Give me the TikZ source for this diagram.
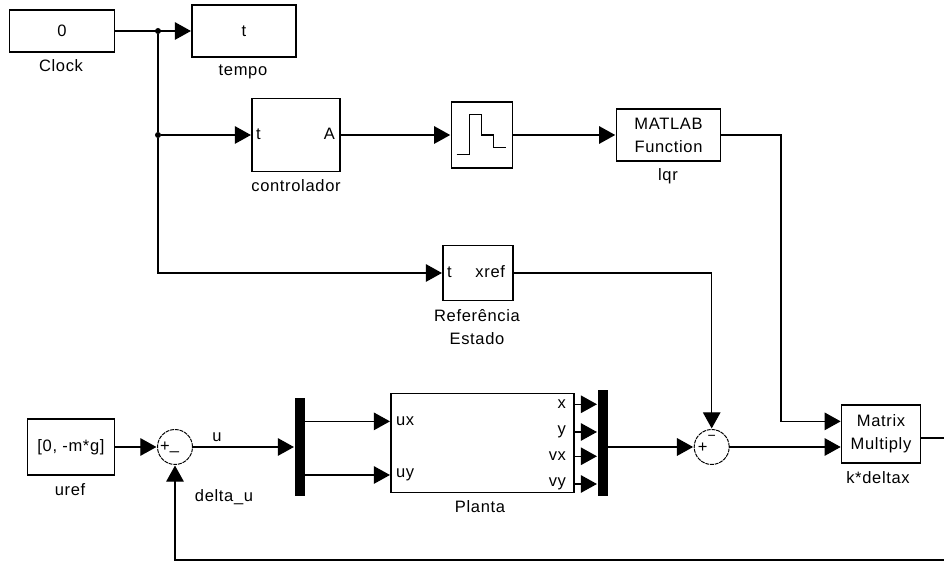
\documentclass[tikz,border=0pt]{standalone}
\usepackage{fontspec}
\setmainfont[LetterSpace=4]{Liberation Sans}
\usetikzlibrary{arrows.meta}
\begin{document}
\begin{tikzpicture}[
  x=0.02cm, y=-0.02cm,
  every node/.style={font=\fontsize{9.4}{13}\selectfont, inner sep=0pt, outer sep=0pt},
  blk/.style={draw, line width=0.75pt, fill=white, align=center},
  lbl/.style={align=center},
  bar/.style={draw=none, fill=black},
  sumc/.style={draw, circle, line width=0.55pt, dash pattern=on 2.2pt off 0.5pt, minimum size=0.7cm},
  wire/.style={line width=0.75pt},
  sig/.style={wire, shorten >=0.6pt, -{Triangle[length=9.2pt, width=10pt]}},
  dot/.style={circle, fill=black, minimum size=0.12cm}
]
  \useasboundingbox (0,0) rectangle (944,563);

  \node[blk, minimum width=2.09cm, minimum height=0.84cm] (clock) at (62,31) {0};
  \node[lbl] (clocklbl) at (61,66) {Clock};
  \node[blk, minimum width=2.08cm, minimum height=1.04cm] (tempo) at (244,31) {t};
  \node[lbl] (tempolbl) at (243,72) {tempo};
  \node[blk, minimum width=1.76cm, minimum height=1.46cm] (ctrl) at (296,135) {};
  \node[lbl] (ctrllbl) at (296,186) {controlador};
  \node[anchor=mid west] (ctrlt) at (256,135) {t};
  \node[anchor=mid east] (ctrla) at (335,135) {A};
  \node[blk, minimum width=1.23cm, minimum height=1.32cm] (stair) at (482,135) {};
  \draw[wire] (456.7,154.3) -- (469.3,154.3) -- (469.3,114.3) -- (481.7,114.3)
    -- (481.7,135) -- (493.3,135) -- (493.3,147.3) -- (506,147.3);
  \node[blk, minimum width=2.09cm, minimum height=1.04cm] (lqr) at (668.5,135) {MATLAB\\Function};
  \node[lbl] (lqrlbl) at (668,176) {lqr};
  \node[blk, minimum width=1.4cm, minimum height=1.11cm] (ref) at (478,273) {};
  \node[anchor=mid west] (reft) at (447,273) {t};
  \node[anchor=mid east] (refx) at (505,273) {xref};
  \node[lbl] (reflbl) at (477,327) {Referência\\Estado};

  \node[blk, minimum width=1.75cm, minimum height=1.12cm] (uref) at (71,447) {[0, -m*g]};
  \node[lbl] (ureflbl) at (70,490) {uref};
  \node[sumc] (sum1) at (175,447) {};
  \node (sum1p) at (165,447) {+};
  \node (sum1m) at (174.5,451) {\_};
  \node[lbl] (ulbl) at (217,437) {u};
  \node[lbl] (dulbl) at (224,497) {delta\_u};
  \node[bar, minimum width=0.2cm, minimum height=1.96cm] (mux) at (300,447) {};
  \node[blk, minimum width=3.66cm, minimum height=1.98cm] (planta) at (482.5,443) {};
  \node[lbl] (plantalbl) at (480,507) {Planta};
  \node[anchor=mid west] (ux) at (396,421) {ux};
  \node[anchor=mid west] (uy) at (396,473) {uy};
  \node[anchor=mid east] (px) at (566,404) {x};
  \node[anchor=mid east] (py) at (566,430) {y};
  \node[anchor=mid east] (pvx) at (566,456) {vx};
  \node[anchor=mid east] (pvy) at (566,482) {vy};
  \node[bar, minimum width=0.2cm, minimum height=2.12cm] (demux) at (603,443) {};
  \node[sumc] (sum2) at (711.7,447) {};
  \node (sum2p) at (702.7,447.5) {+};
  \node (sum2m) at (711.7,438) {\fontsize{8}{8}\selectfont−};
  \node[blk, minimum width=1.57cm, minimum height=1.16cm] (mat) at (881,434) {Matrix\\Multiply};
  \node[lbl] (matlbl) at (878,478) {k*deltax};

  \node[dot] (j1) at (158,31) {};
  \node[dot] (j2) at (158,135) {};
  \coordinate (outr) at (944,438);
  \coordinate (fbk) at (944,560);

  \draw[sig] (clock) -- (tempo);
  \draw[wire] (j1) -- (j2);
  \draw[sig] (j2) -- (ctrl);
  \draw[sig] (j2) |- (ref);
  \draw[sig] (ctrl) -- (stair);
  \draw[sig] (stair) -- (lqr);
  \draw[sig] (lqr.east) -- (781,135) |- (mat.west |- ux);
  \draw[sig] (ref.east) -| (sum2.north);
  \draw[sig] (uref) -- (sum1);
  \draw[sig] (sum1) -- (mux);
  \draw[sig] (mux.east |- ux) -- (planta.west |- ux);
  \draw[sig] (mux.east |- uy) -- (planta.west |- uy);
  \draw[sig] (planta.east |- px) -- (demux.west |- px);
  \draw[sig] (planta.east |- py) -- (demux.west |- py);
  \draw[sig] (planta.east |- pvx) -- (demux.west |- pvx);
  \draw[sig] (planta.east |- pvy) -- (demux.west |- pvy);
  \draw[sig] (demux.east |- sum2) -- (sum2);
  \draw[sig] (sum2) -- (mat.west |- sum2);
  \draw[wire] (mat.east |- outr) -- (outr);
  \draw[sig] (fbk) -| (sum1.south);
\end{tikzpicture}
\end{document}
